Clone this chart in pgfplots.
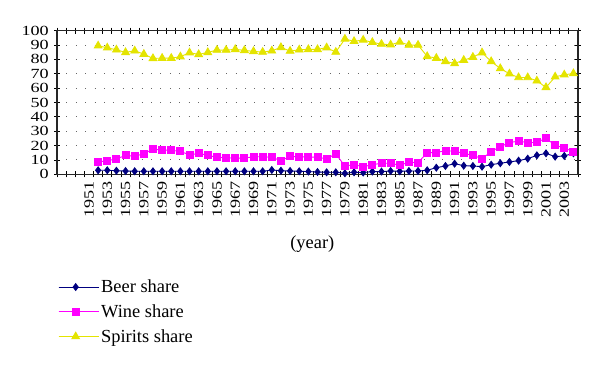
\documentclass[border=0pt]{standalone}
\usepackage{fontspec}
\setmainfont{Liberation Serif}
\newfontfamily\tickfont[FakeStretch=1.3]{Liberation Serif}
\usepackage{pgfplots}
\pgfplotsset{compat=1.18}
\usepackage{pgfplotstable}
\definecolor{beer}{RGB}{0,0,128}
\definecolor{wine}{RGB}{255,0,255}
\definecolor{spirits}{RGB}{228,228,0}
\pgfplotstableread{
year beer wine spirits
1952 2.8 8.6 89.5
1953 2.8 9.5 88.1
1954 2.5 10.7 86.7
1955 2.3 13.2 84.9
1956 2.1 12.5 86.0
1957 2.1 14.4 83.7
1958 2.1 17.4 80.7
1959 2.1 16.9 80.9
1960 2.1 16.7 80.9
1961 2.1 16.0 81.9
1962 2.1 13.5 84.7
1963 2.1 14.6 83.5
1964 2.1 13.2 84.9
1965 2.1 11.8 86.5
1966 2.1 11.6 86.5
1967 2.1 11.1 87.0
1968 2.1 11.4 86.3
1969 2.1 12.1 85.6
1970 2.1 12.3 85.1
1971 3.0 11.8 86.0
1972 2.5 9.5 88.4
1973 2.3 12.5 85.8
1974 2.1 12.1 86.7
1975 1.9 12.1 87.0
1976 1.6 11.8 87.0
1977 1.4 10.9 88.2
1978 1.4 14.2 85.1
1979 0.7 5.8 94.2
1980 1.4 6.7 92.6
1981 1.2 5.3 93.5
1982 1.9 6.7 91.9
1983 1.9 7.7 90.7
1984 2.3 7.7 90.2
1985 2.1 6.3 92.1
1986 2.3 8.4 90.0
1987 2.3 8.1 90.0
1988 2.8 15.1 82.1
1989 4.6 15.1 80.9
1990 5.8 16.5 78.6
1991 7.4 16.0 77.2
1992 6.0 14.6 79.5
1993 5.8 13.2 81.6
1994 5.3 10.9 84.7
1995 6.7 15.8 78.6
1996 7.7 19.3 73.7
1997 8.6 22.0 70.0
1998 9.5 23.2 67.4
1999 10.9 22.0 67.4
2000 13.2 22.3 65.1
2001 14.6 25.1 60.5
2002 12.3 20.2 67.9
2003 12.8 18.3 69.3
2004 14.6 15.8 70.2
}\data
\begin{document}
\begin{tikzpicture}
\begin{axis}[
  name=ax,
  scale only axis, width=521bp, height=143.6bp,
  xmin=1947.5, xmax=2004.5, ymin=0, ymax=100,
  xtick={1951,1953,...,2003},
  major x tick style={draw=none},
  minor xtick={1947.5,1948.5,...,2004.5},
  ytick={0,10,...,100},
  tick align=center,
  major tick length=6bp, minor tick length=6bp,
  tick style={black, line width=0.8bp},
  axis line style={black!85, line width=1.2bp},
  ymajorgrids,
  grid style={black!60, line width=0.9bp, dash pattern=on 0.9bp off 8.5bp},
  /pgf/number format/assume math mode=true,
  /pgf/number format/1000 sep={},
  tick label style={font=\tickfont\fontsize{14}{14}\selectfont},
  xticklabel style={rotate=90, anchor=east, inner xsep=0bp, inner ysep=1bp, xshift=-4bp},
  yticklabel style={inner ysep=0bp, inner xsep=2bp, xshift=-3bp},
  xlabel={(year)},
  xlabel style={font=\fontsize{18.5}{20}\selectfont, at={(axis description cs:0.49,-0.485)}, anchor=center},
  legend style={at={(axis description cs:0.002,-0.72)}, anchor=north west, draw=none, fill=none,
    font=\fontsize{18.5}{20}\selectfont, row sep=6.5bp, inner sep=0bp},
  legend cell align=left,
  legend image code/.code={\draw[mark repeat=2,mark phase=2,#1] plot coordinates {(0bp,0bp)(17bp,0bp)(34bp,0bp)};\path (0bp,0bp) -- (40bp,0bp);},
]
\addplot[beer, line width=0.9bp, mark=diamond*, mark size=3.4bp] table[x=year,y=beer]{\data};
\addlegendentry{Beer share}
\addplot[wine, line width=0.9bp, mark=square*, mark size=3.5bp] table[x=year,y=wine]{\data};
\addlegendentry{Wine share}
\addplot[spirits, line width=0.9bp, mark=triangle*, mark size=4.4bp] table[x=year,y=spirits]{\data};
\addlegendentry{Spirits share}
\end{axis}
\pgfresetboundingbox
\path[use as bounding box] ([xshift=-57bp,yshift=-192.7bp]ax.south west) rectangle ([xshift=543bp,yshift=174.3bp]ax.south west);
\end{tikzpicture}
\end{document}
